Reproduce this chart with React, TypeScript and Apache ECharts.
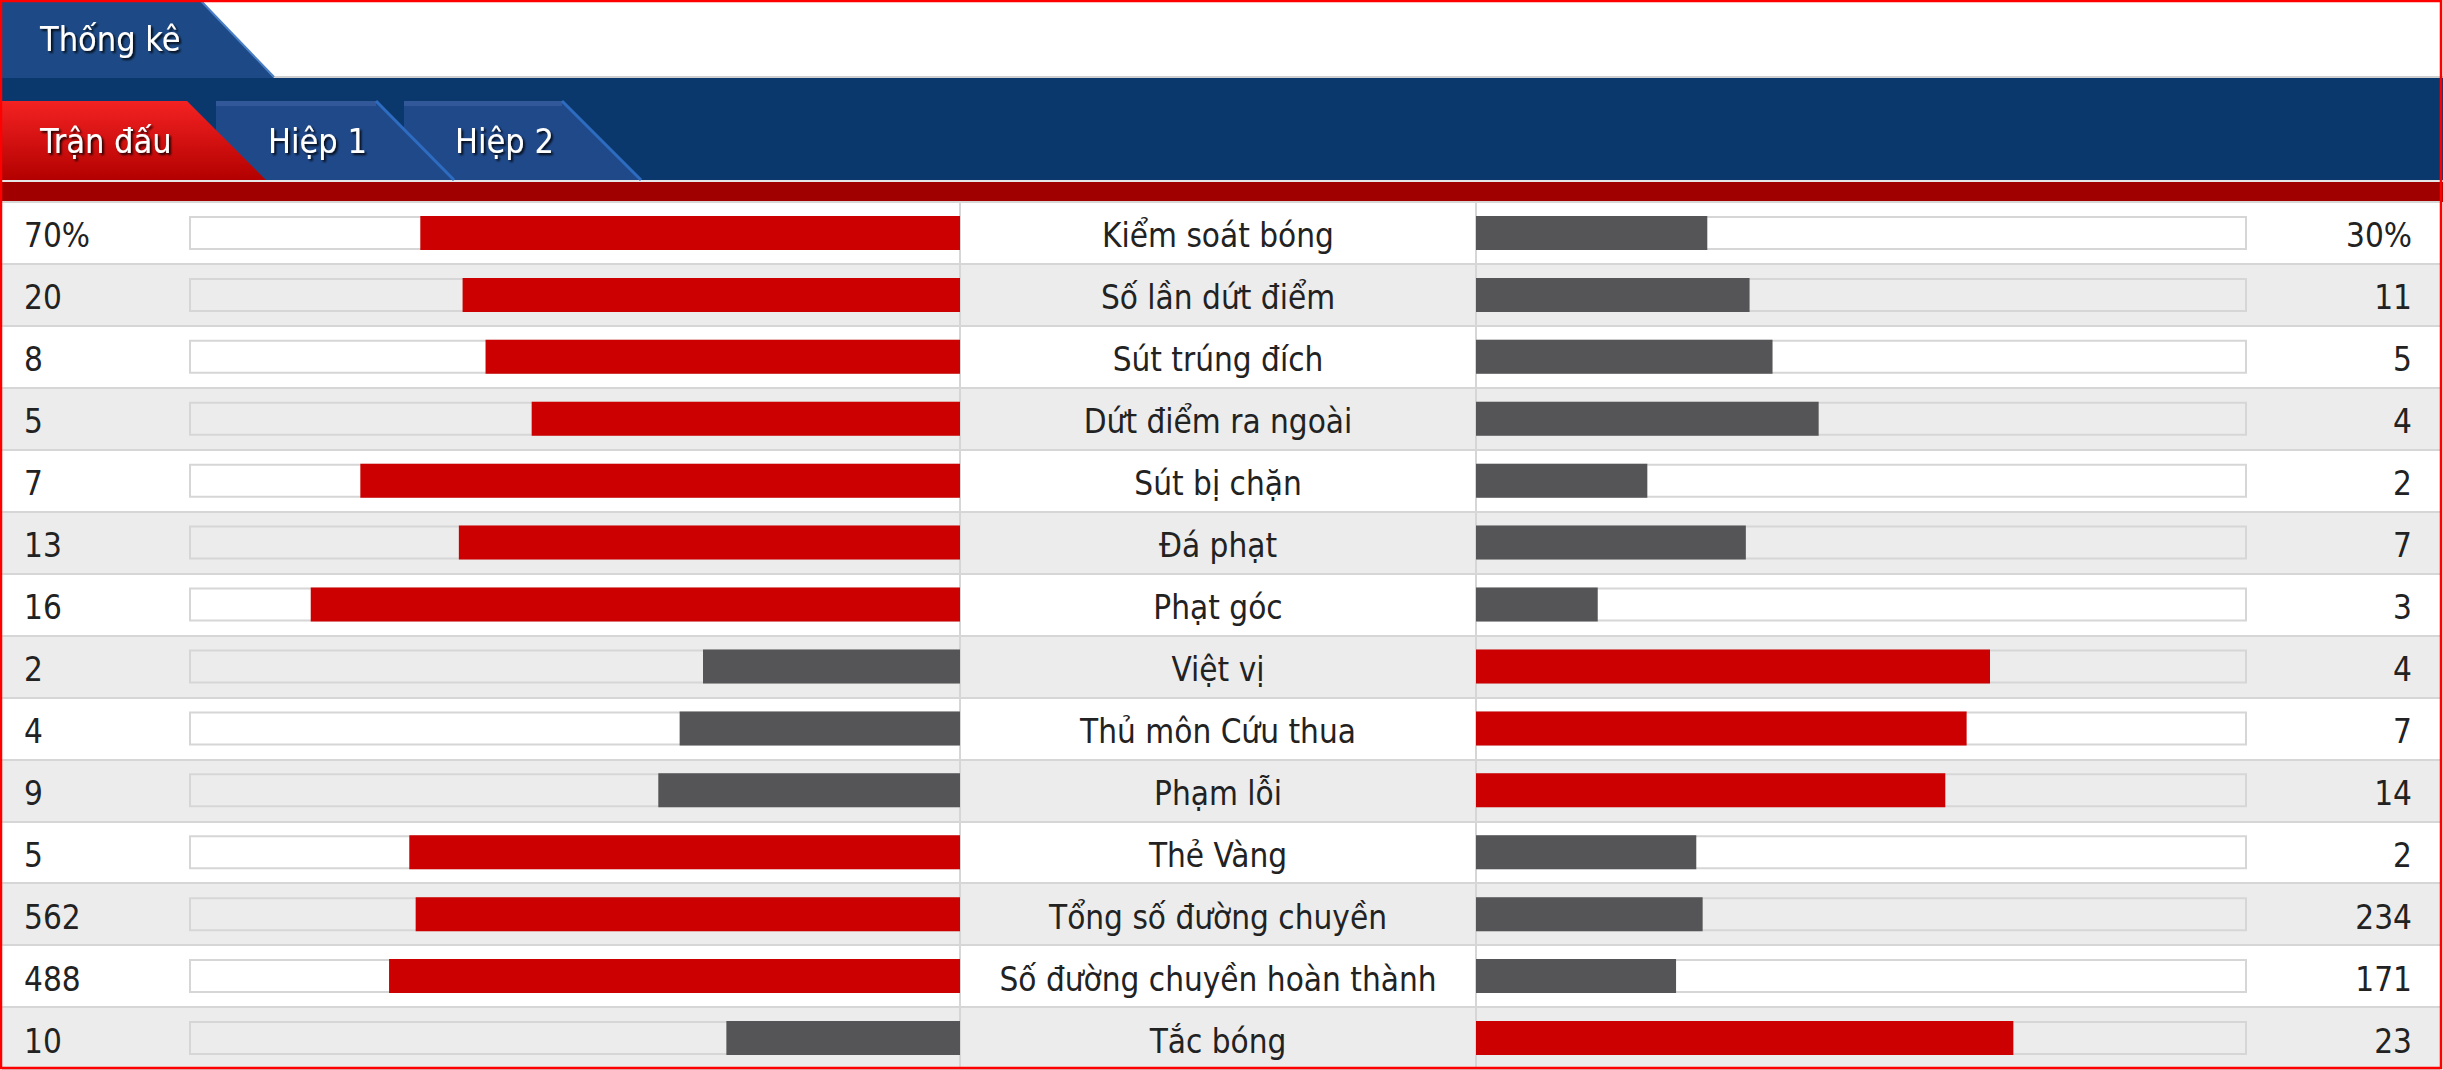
import React, { useEffect, useRef } from "react";
import * as echarts from "echarts";

const title = "Thống kê";
const tabLabels = ["Trận đấu", "Hiệp 1", "Hiệp 2"];
const categories = [
  "Kiểm soát bóng",
  "Số lần dứt điểm",
  "Sút trúng đích",
  "Dứt điểm ra ngoài",
  "Sút bị chặn",
  "Đá phạt",
  "Phạt góc",
  "Việt vị",
  "Thủ môn Cứu thua",
  "Phạm lỗi",
  "Thẻ Vàng",
  "Tổng số đường chuyền",
  "Số đường chuyền hoàn thành",
  "Tắc bóng",
];
const homeValues = [70, 20, 8, 5, 7, 13, 16, 2, 4, 9, 5, 562, 488, 10];
const awayValues = [30, 11, 5, 4, 2, 7, 3, 4, 7, 14, 2, 234, 171, 23];
const homeLabels = ["70%", "20", "8", "5", "7", "13", "16", "2", "4", "9", "5", "562", "488", "10"];
const awayLabels = ["30%", "11", "5", "4", "2", "7", "3", "4", "7", "14", "2", "234", "171", "23"];

const FONT = '"DejaVu Sans Condensed", "Liberation Sans Narrow", sans-serif';
const RED = "#cc0000";
const GREY = "#555557";
const LINE = "#d6d6d6";

export default function App() {
  const ref = useRef<HTMLDivElement>(null);
  useEffect(() => {
    document.body.style.margin = "0";
    const chart = echarts.init(ref.current!, null, { renderer: "svg" });
    const share = (a: number, b: number) => a / (a + b);
    const rich = { t: { fontSize: 33, color: "#222", fontFamily: FONT, padding: [6, 0, 0, 0] } };
    const textShadow = {
      textShadowColor: "rgba(0,0,0,0.85)",
      textShadowBlur: 2,
      textShadowOffsetX: 2,
      textShadowOffsetY: 2,
    };
    const tabShape = (x0: number, x1: number, x2: number) => [
      [x0, 101],
      [x1, 101],
      [x2, 180],
      [x0, 180],
    ];
    const blueTab = (x0: number, x1: number, x2: number, label: string, tx: number) => [
      { type: "polygon", shape: { points: tabShape(x0, x1, x2) }, style: { fill: "#20498a" }, z: 1 },
      { type: "rect", shape: { x: x0, y: 101, width: x1 - x0, height: 5 }, style: { fill: "#33589a" }, z: 1 },
      { type: "line", shape: { x1: x1, y1: 101, x2: x2, y2: 180 }, style: { stroke: "#2e6cc2", lineWidth: 3 }, z: 1 },
      {
        type: "text",
        x: tx,
        y: 141,
        style: { text: label, fill: "#fff", font: `34px ${FONT}`, verticalAlign: "middle", ...textShadow },
        z: 2,
      },
    ];

    const option: any = {
      animation: false,
      backgroundColor: "#fff",
      grid: [
        { left: 2, top: 202, width: 2438, height: 867 },
        { left: 189, top: 202, width: 771, height: 867 },
        { left: 1476, top: 202, width: 771, height: 867 },
      ],
      xAxis: [
        { gridIndex: 0, type: "value", min: 0, max: 1, show: false },
        { gridIndex: 1, type: "value", min: 0, max: 1, inverse: true, show: false },
        { gridIndex: 2, type: "value", min: 0, max: 1, show: false },
      ],
      yAxis: [
        {
          gridIndex: 0,
          type: "category",
          data: categories,
          inverse: true,
          axisLine: { show: false },
          axisTick: { show: false },
          axisLabel: { show: false },
          splitLine: { show: true, lineStyle: { color: LINE, width: 2 } },
          splitArea: { show: true, areaStyle: { color: ["#ffffff", "#ececec"] } },
        },
        {
          gridIndex: 1,
          type: "category",
          data: categories,
          inverse: true,
          position: "left",
          axisLine: { show: false },
          axisTick: { show: false },
          axisLabel: {
            interval: 0,
            margin: 165,
            align: "left",
            formatter: (_v: string, i: number) => `{t|${homeLabels[i]}}`,
            rich,
          },
        },
        {
          gridIndex: 1,
          type: "category",
          data: categories,
          inverse: true,
          position: "right",
          axisLine: { show: true, lineStyle: { color: LINE, width: 2 } },
          axisTick: { show: false },
          axisLabel: {
            interval: 0,
            margin: 258,
            align: "center",
            formatter: (v: string) => `{t|${v}}`,
            rich,
          },
        },
        {
          gridIndex: 2,
          type: "category",
          data: categories,
          inverse: true,
          position: "left",
          axisLine: { show: true, lineStyle: { color: LINE, width: 2 } },
          axisTick: { show: false },
          axisLabel: { show: false },
        },
        {
          gridIndex: 2,
          type: "category",
          data: categories,
          inverse: true,
          position: "right",
          axisLine: { show: false },
          axisTick: { show: false },
          axisLabel: {
            interval: 0,
            margin: 165,
            align: "right",
            formatter: (_v: string, i: number) => `{t|${awayLabels[i]}}`,
            rich,
          },
        },
      ],
      series: [
        {
          type: "bar",
          xAxisIndex: 1,
          yAxisIndex: 1,
          silent: true,
          barWidth: 34,
          barGap: "-100%",
          data: categories.map(() => 1),
          itemStyle: { color: "rgba(0,0,0,0)", borderColor: LINE, borderWidth: 2 },
        },
        {
          type: "bar",
          xAxisIndex: 1,
          yAxisIndex: 1,
          barWidth: 34,
          barGap: "-100%",
          data: homeValues.map((v, i) => ({
            value: share(v, awayValues[i]),
            itemStyle: { color: v > awayValues[i] ? RED : GREY },
          })),
        },
        {
          type: "bar",
          xAxisIndex: 2,
          yAxisIndex: 3,
          silent: true,
          barWidth: 34,
          barGap: "-100%",
          data: categories.map(() => 1),
          itemStyle: { color: "rgba(0,0,0,0)", borderColor: LINE, borderWidth: 2 },
        },
        {
          type: "bar",
          xAxisIndex: 2,
          yAxisIndex: 3,
          barWidth: 34,
          barGap: "-100%",
          data: awayValues.map((v, i) => ({
            value: share(v, homeValues[i]),
            itemStyle: { color: v > homeValues[i] ? RED : GREY },
          })),
        },
      ],
      graphic: [
        { type: "rect", shape: { x: 0, y: 76, width: 2443, height: 2 }, style: { fill: "#cfcfcf" } },
        { type: "rect", shape: { x: 0, y: 78, width: 2443, height: 102 }, style: { fill: "#0a386c" } },
        { type: "rect", shape: { x: 0, y: 180, width: 2443, height: 2 }, style: { fill: "#e6e6e6" } },
        { type: "rect", shape: { x: 0, y: 182, width: 2443, height: 20 }, style: { fill: "#a10000" } },
        {
          type: "polygon",
          shape: { points: [[0, 0], [201, 0], [274, 78], [0, 78]] },
          style: { fill: "#1d4a86" },
        },
        { type: "line", shape: { x1: 201, y1: 1, x2: 274, y2: 77 }, style: { stroke: "#4a7fc6", lineWidth: 2 } },
        {
          type: "text",
          x: 40,
          y: 39,
          style: { text: title, fill: "#fff", font: `34px ${FONT}`, verticalAlign: "middle", ...textShadow },
        },
        ...blueTab(404, 562, 641, tabLabels[2], 455),
        ...blueTab(216, 376, 454, tabLabels[1], 268),
        {
          type: "polygon",
          shape: { points: tabShape(0, 187, 266) },
          style: {
            fill: {
              type: "linear",
              x: 0,
              y: 0,
              x2: 0,
              y2: 1,
              colorStops: [
                { offset: 0, color: "#f42222" },
                { offset: 1, color: "#b30000" },
              ],
            },
          },
          z: 3,
        },
        {
          type: "text",
          x: 40,
          y: 141,
          style: { text: tabLabels[0], fill: "#fff", font: `34px ${FONT}`, verticalAlign: "middle", ...textShadow },
          z: 4,
        },
        {
          type: "rect",
          shape: { x: 1, y: 1, width: 2440, height: 1067 },
          style: { fill: "none", stroke: "#ff0000", lineWidth: 2.5 },
          z: 100,
        },
      ],
    };
    chart.setOption(option);
    return () => chart.dispose();
  }, []);
  return <div ref={ref} style={{ width: 2443, height: 1070 }} />;
}
